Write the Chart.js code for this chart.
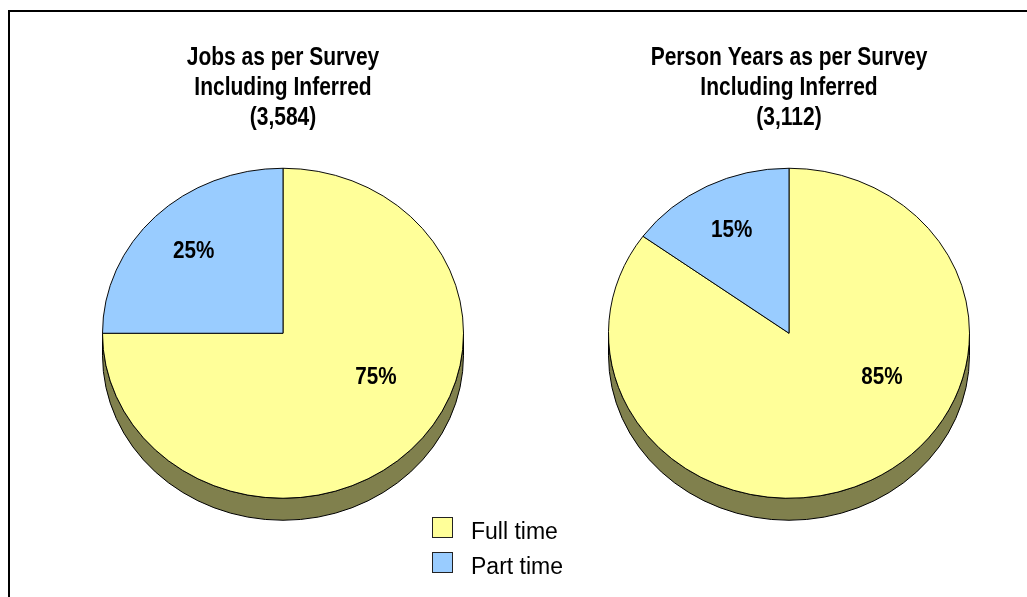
<!DOCTYPE html>
<html>
<head>
<meta charset="utf-8">
<script src="https://cdn.jsdelivr.net/npm/chart.js@4.4.1/dist/chart.umd.min.js"></script>
<style>
  body { margin: 0; background: #fff; width: 1027px; height: 597px; overflow: hidden; position: relative; font-family: "Liberation Sans", Arial, sans-serif; }
  .frame { position: absolute; left: 8px; top: 10px; width: 1100px; height: 700px; border-top: 2px solid #000; border-left: 2px solid #000; }
  .pie { position: absolute; top: 30px; width: 380px; height: 493px; }
  #legend { position: absolute; left: 432px; top: 517px; }
  .box { position: absolute; left: 0; width: 19px; height: 19px; border: 1px solid #222; }
  .txt { position: absolute; left: 39px; font-size: 23px; line-height: 26px; white-space: nowrap; color: #000; }
</style>
</head>
<body>
<div class="frame"></div>
<canvas id="pieJobs" class="pie" width="380" height="493" style="left:93px"></canvas>
<canvas id="piePersonYears" class="pie" width="380" height="493" style="left:599px"></canvas>
<div id="legend"></div>

<script>
const categories = ["Full time", "Part time"];
const jobsShare = [75, 25];
const personYearsShare = [85, 15];
const jobsTitle = ["Jobs as per Survey", "Including Inferred", "(3,584)"];
const personYearsTitle = ["Person Years as per Survey", "Including Inferred", "(3,112)"];

const sliceColors = ["#FFFF99", "#99CCFF"];
const fontFamily = "'Liberation Sans', Arial, sans-serif";
const squash = 165 / 180.5; // tilt of the pie top
const depth = 22;           // height of the pie wall

function shade(hex, f) {
  const n = parseInt(hex.slice(1), 16);
  const r = Math.round(((n >> 16) & 255) * f), g = Math.round(((n >> 8) & 255) * f), b = Math.round((n & 255) * f);
  return `rgb(${r},${g},${b})`;
}

// condensed text: plain bold squeezed sideways
function narrowText(ctx, text, x, y, sx) {
  ctx.save();
  ctx.translate(x, y);
  ctx.scale(sx, 1);
  ctx.fillText(text, 0, 0);
  ctx.restore();
}

// draws the wall under the front half, tilts the top face, puts % labels and the title on it
const pie3d = {
  id: "pie3d",
  beforeDatasetsDraw(chart) {
    const ctx = chart.ctx;
    const ds = chart.data.datasets[0];
    const arcs = chart.getDatasetMeta(0).data;
    const { x: cx, y: cy, outerRadius: r } = arcs[0];
    const ry = r * squash;
    arcs.forEach((arc, i) => {
      for (const k of [-2 * Math.PI, 0, 2 * Math.PI]) {
        const s = Math.max(arc.startAngle + k, 0);
        const e = Math.min(arc.endAngle + k, Math.PI);
        if (e <= s) continue;
        ctx.beginPath();
        ctx.ellipse(cx, cy, r, ry, 0, s, e);
        ctx.ellipse(cx, cy + depth, r, ry, 0, e, s, true);
        ctx.closePath();
        ctx.fillStyle = shade(ds.backgroundColor[i], 0.5);
        ctx.fill();
        ctx.lineWidth = 1;
        ctx.strokeStyle = "#000";
        ctx.stroke();
      }
    });
    ctx.save();
    ctx.translate(cx, cy);
    ctx.scale(1, squash);
    ctx.translate(-cx, -cy);
  },
  afterDatasetsDraw(chart, args, opts) {
    const ctx = chart.ctx;
    ctx.restore();
    const values = chart.data.datasets[0].data;
    const total = values.reduce((a, b) => a + b, 0);
    const arcs = chart.getDatasetMeta(0).data;
    ctx.save();
    ctx.font = `bold ${opts.size}px ${fontFamily}`;
    ctx.fillStyle = "#000";
    ctx.textAlign = "center";
    ctx.textBaseline = "middle";
    arcs.forEach((arc, i) => {
      const span = arc.endAngle - arc.startAngle;
      const wide = span > Math.PI;
      const ang = wide ? opts.wideAngle : (arc.startAngle + arc.endAngle) / 2;
      const dist = arc.outerRadius * (wide ? opts.wideRadius : opts.radius);
      const x = arc.x + Math.cos(ang) * dist;
      const y = arc.y + Math.sin(ang) * dist * squash;
      narrowText(ctx, Math.round((values[i] / total) * 100) + "%", x, y, opts.squeeze);
    });
    ctx.restore();
  },
  afterDraw(chart, args, opts) {
    const ctx = chart.ctx;
    ctx.save();
    ctx.font = `bold ${opts.titleSize}px ${fontFamily}`;
    ctx.fillStyle = "#000";
    ctx.textAlign = "center";
    ctx.textBaseline = "middle";
    opts.title.forEach((line, i) => {
      narrowText(ctx, line, chart.width / 2, opts.titleTop + opts.titleLine * (i + 0.5), opts.titleSqueeze);
    });
    ctx.restore();
  },
};

function makePie(id, title, values) {
  return new Chart(document.getElementById(id), {
    type: "pie",
    data: {
      labels: categories,
      datasets: [{ data: values, backgroundColor: sliceColors, borderColor: "#000", borderWidth: 1, clip: false }],
    },
    options: {
      responsive: false,
      animation: false,
      events: [],
      layout: { padding: { left: 9, right: 9, top: 113.5, bottom: 0 } },
      plugins: {
        legend: { display: false },
        tooltip: { enabled: false },
        pie3d: {
          size: 24, squeeze: 0.86, radius: 0.7, wideRadius: 0.58, wideAngle: 0.48,
          title: title, titleSize: 25, titleLine: 30, titleTop: 13.5, titleSqueeze: 0.84,
        },
      },
    },
    plugins: [pie3d],
  });
}

makePie("pieJobs", jobsTitle, jobsShare);
makePie("piePersonYears", personYearsTitle, personYearsShare);

document.getElementById("legend").innerHTML = categories.map((c, i) =>
  `<div class="box" style="top:${i * 35}px;background:${sliceColors[i]}"></div>` +
  `<div class="txt" style="top:${i * 35 + 1}px">${c}</div>`
).join("");
</script>
</body>
</html>
